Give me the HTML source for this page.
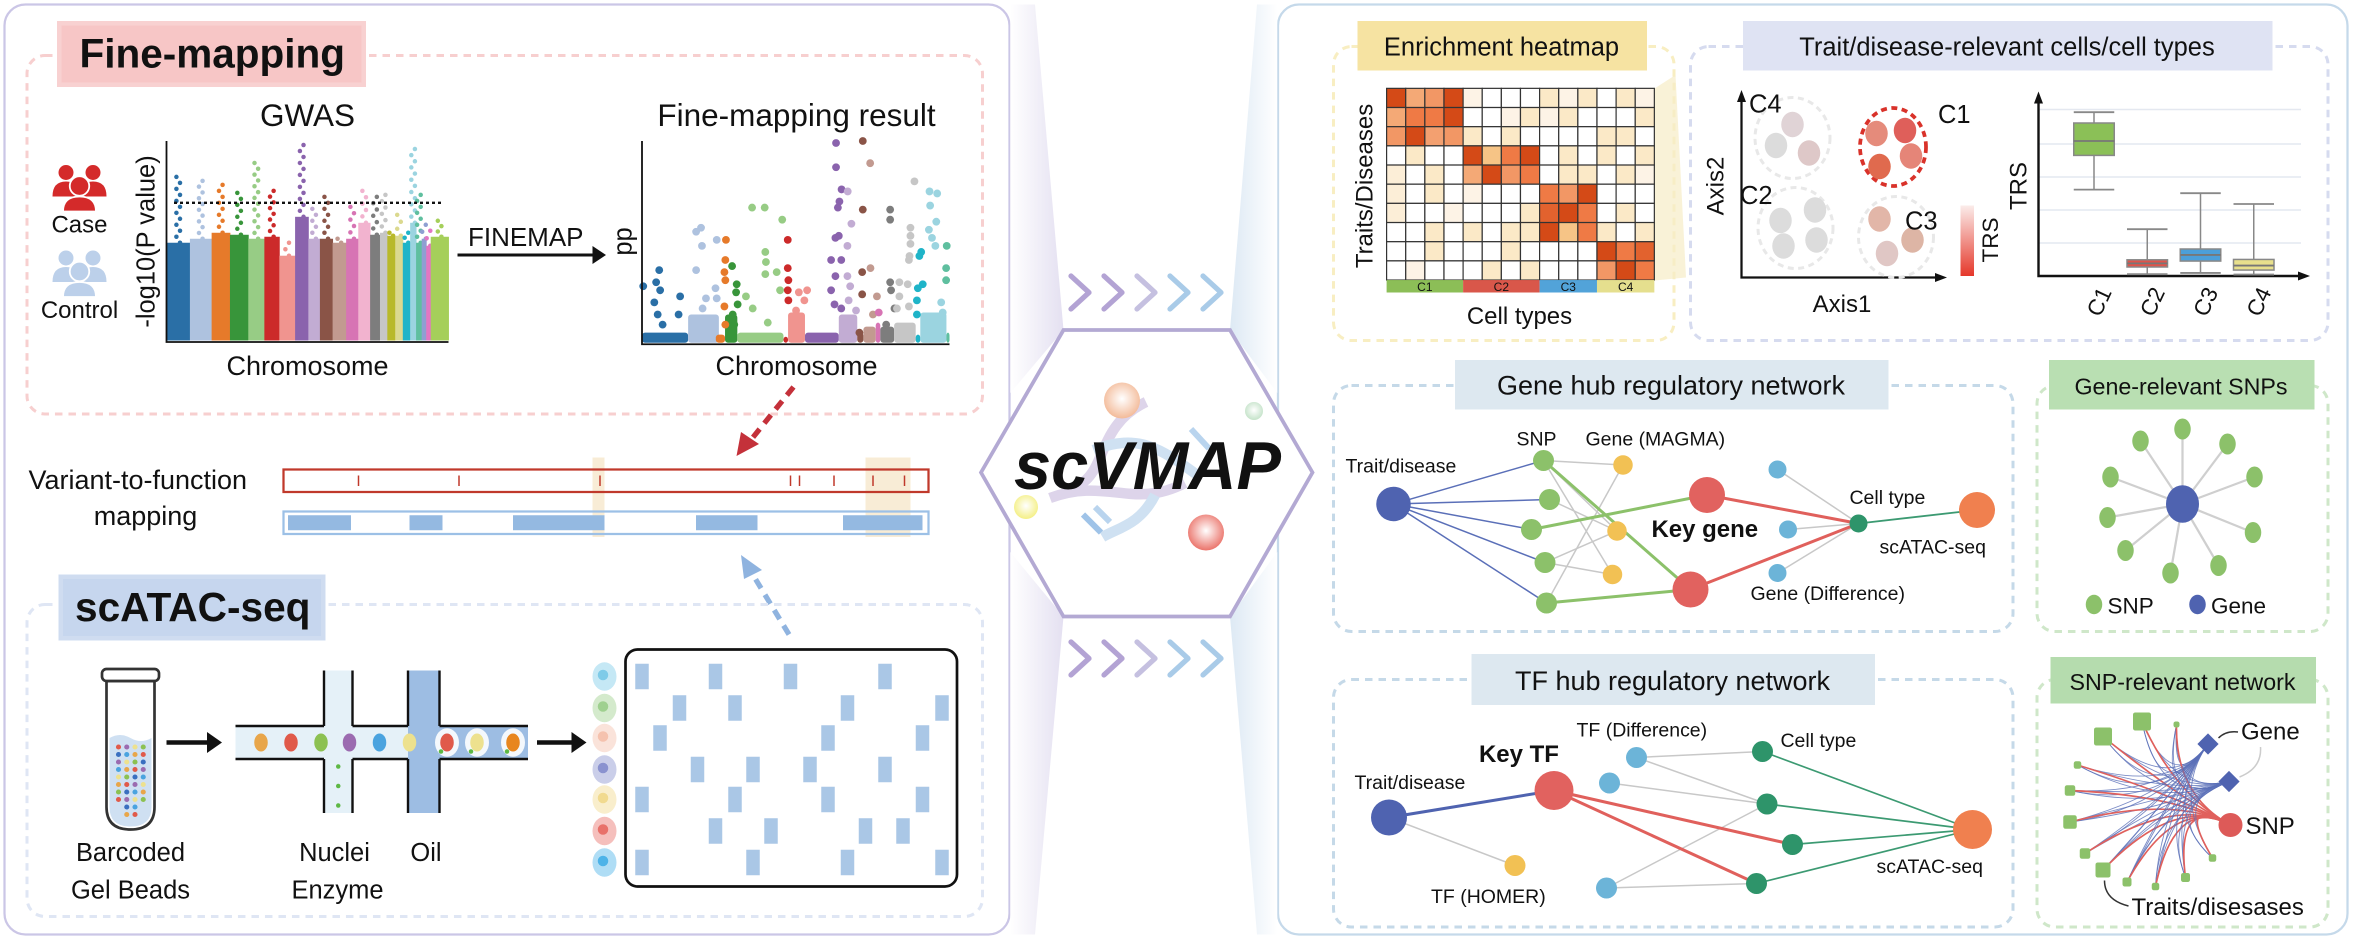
<!DOCTYPE html>
<html><head><meta charset="utf-8"><title>scVMAP overview</title>
<style>
html,body{margin:0;padding:0;background:#fff;}
svg{display:block;font-family:"Liberation Sans",Arial,sans-serif;}
text{fill:#111;}
</style></head>
<body>
<svg id="fig" width="2354" height="943" viewBox="0 0 1569.33 628.67" preserveAspectRatio="none" xmlns="http://www.w3.org/2000/svg">
<defs>
<linearGradient id="wedgeL" x1="0" x2="1" y1="0" y2="0"><stop offset="0" stop-color="#ffffff"/><stop offset="1" stop-color="#e4e0f1"/></linearGradient>
<linearGradient id="wedgeR" x1="1" x2="0" y1="0" y2="0"><stop offset="0" stop-color="#ffffff"/><stop offset="1" stop-color="#dde9f4"/></linearGradient>
<linearGradient id="chevG" x1="0" x2="1"><stop offset="0" stop-color="#b3a3d4"/><stop offset="1" stop-color="#a6cbe8"/></linearGradient>
<linearGradient id="trsG" x1="0" x2="0" y1="0" y2="1"><stop offset="0" stop-color="#fbecea"/><stop offset="1" stop-color="#e5372a"/></linearGradient>
<radialGradient id="ballO" cx="0.5" cy="0.45" r="0.6"><stop offset="0" stop-color="#fff"/><stop offset="1" stop-color="#f2b48f"/></radialGradient>
<radialGradient id="ballR" cx="0.5" cy="0.45" r="0.6"><stop offset="0" stop-color="#fff"/><stop offset="1" stop-color="#e9675d"/></radialGradient>
<radialGradient id="ballY" cx="0.5" cy="0.45" r="0.6"><stop offset="0" stop-color="#fff"/><stop offset="1" stop-color="#f3ee7a"/></radialGradient>
<radialGradient id="ballG" cx="0.5" cy="0.45" r="0.6"><stop offset="0" stop-color="#fff"/><stop offset="1" stop-color="#bfe0c4"/></radialGradient>
</defs>

<!-- panels -->
<rect x="3" y="3" width="670" height="620" rx="14" fill="#fff" stroke="#cbc6e6" stroke-width="1.5"/>
<rect x="852" y="3" width="713" height="620" rx="14" fill="#fff" stroke="#c5d9ea" stroke-width="1.5"/>

<!-- wedges & hexagon -->
<polygon points="673.5,3 690,3 709,220 673.5,262" fill="url(#wedgeL)"/>
<polygon points="673.5,368 709,411 690,623 673.5,623" fill="url(#wedgeL)"/>
<polygon points="851.5,3 838,3 820,220 851.5,262" fill="url(#wedgeR)"/>
<polygon points="851.5,368 820,411 838,623 851.5,623" fill="url(#wedgeR)"/>
<polygon points="709,220 820,220 875,315 820,411 709,411 654,315" fill="#fff" stroke="#b3a9d3" stroke-width="2.5"/>
<g fill="none" stroke-linecap="butt">
  <path d="M764,268 C728,285 740,320 712,326" stroke="#ddd4ea" stroke-width="7"/>
  <path d="M700,332 C738,318 755,340 790,322" stroke="#ddd4ea" stroke-width="7"/>
  <path d="M729,300 C760,288 775,300 800,318" stroke="#cfe1f2" stroke-width="7"/>
  <path d="M770,330 C760,350 745,352 735,358" stroke="#cfe1f2" stroke-width="7"/>
  <line x1="722" y1="343" x2="734" y2="355" stroke="#9fc3e8" stroke-width="4"/>
  <line x1="730" y1="338" x2="740" y2="348" stroke="#b9d4ee" stroke-width="4"/>
  <line x1="794" y1="286" x2="806" y2="299" stroke="#b9d4ee" stroke-width="4"/>
</g>
<circle cx="748" cy="267" r="12" fill="url(#ballO)"/>
<circle cx="836" cy="274" r="6" fill="url(#ballG)"/>
<circle cx="684" cy="338" r="8" fill="url(#ballY)"/>
<circle cx="804" cy="355" r="12" fill="url(#ballR)"/>
<text x="676" y="326" font-size="45" font-weight="bold" font-style="italic" textLength="178" lengthAdjust="spacingAndGlyphs">scVMAP</text>
<g id="chevTop"></g>
<g id="chevBot"></g>

<!-- Fine-mapping section -->
<rect x="18" y="37" width="637" height="239" rx="12" fill="none" stroke="#f7cfcf" stroke-width="2" stroke-dasharray="5,4"/>
<rect x="38" y="14" width="206" height="44" fill="#f8d1d1"/>
<rect x="41" y="17" width="200" height="38" fill="#f7c6c6"/>
<text x="53" y="45" font-size="27" font-weight="bold" textLength="177" lengthAdjust="spacingAndGlyphs">Fine-mapping</text>

<g id="caseIcon" fill="#d42a2a"></g>
<g id="ctrlIcon" fill="#bcd0ea"></g>
<text x="53" y="155" font-size="16" text-anchor="middle">Case</text>
<text x="53" y="212" font-size="16" text-anchor="middle">Control</text>

<text x="205" y="84" font-size="21" text-anchor="middle">GWAS</text>
<text transform="translate(103,161) rotate(-90)" font-size="17" text-anchor="middle">-log10(P value)</text>
<g id="gwas"></g>
<text x="205" y="250" font-size="18" text-anchor="middle">Chromosome</text>

<text x="312" y="164" font-size="17" textLength="77" lengthAdjust="spacingAndGlyphs">FINEMAP</text>
<line x1="305" y1="170" x2="398" y2="170" stroke="#111" stroke-width="2"/>
<polygon points="404,170 395,164 395,176" fill="#111"/>

<text x="531" y="84" font-size="21" text-anchor="middle">Fine-mapping result</text>
<text transform="translate(421,161) rotate(-90)" font-size="17" text-anchor="middle">pp</text>
<g id="fm"></g>
<text x="531" y="250" font-size="18" text-anchor="middle">Chromosome</text>

<line x1="529" y1="258" x2="500" y2="294" stroke="#c4313a" stroke-width="3.5" stroke-dasharray="7,5"/>
<polygon points="491,304 494,288 506,296" fill="#c4313a"/>

<!-- Variant-to-function -->
<text x="19" y="326" font-size="18">Variant-to-function</text>
<text x="97" y="350" font-size="18" text-anchor="middle">mapping</text>
<rect x="395" y="305" width="8" height="53" fill="#f8ecd6"/>
<rect x="577" y="305" width="30" height="53" fill="#f8ecd6"/>
<rect x="189" y="313" width="430" height="15" fill="none" stroke="#c0392b" stroke-width="1.5"/>
<g id="variants"></g>
<rect x="189" y="341" width="430" height="15" fill="none" stroke="#9cc0e6" stroke-width="1.5"/>
<g id="peaks"></g>
<line x1="526" y1="423" x2="500" y2="380" stroke="#8fb3df" stroke-width="3.5" stroke-dasharray="7,5"/>
<polygon points="494,370 508,380 496,386" fill="#8fb3df"/>

<!-- scATAC-seq -->
<rect x="18" y="403" width="637" height="208" rx="12" fill="none" stroke="#dfe6f4" stroke-width="2" stroke-dasharray="5,4"/>
<rect x="39" y="383" width="178" height="44" fill="#cfdcf0"/>
<rect x="42" y="386" width="172" height="38" fill="#c6d6ee"/>
<text x="50" y="414" font-size="27" font-weight="bold" textLength="157" lengthAdjust="spacingAndGlyphs">scATAC-seq</text>
<g id="tube"></g>
<text x="87" y="574" font-size="17" text-anchor="middle">Barcoded</text>
<text x="87" y="599" font-size="17" text-anchor="middle">Gel Beads</text>
<line x1="111" y1="495" x2="141" y2="495" stroke="#111" stroke-width="3"/>
<polygon points="148,495 138,488 138,502" fill="#111"/>
<g id="chip"></g>
<text x="223" y="574" font-size="17" text-anchor="middle">Nuclei</text>
<text x="284" y="574" font-size="17" text-anchor="middle">Oil</text>
<text x="225" y="599" font-size="17" text-anchor="middle">Enzyme</text>
<line x1="358" y1="495" x2="384" y2="495" stroke="#111" stroke-width="3"/>
<polygon points="391,495 381,488 381,502" fill="#111"/>
<g id="cells"></g>
<rect x="417" y="433" width="221" height="158" rx="8" fill="#fff" stroke="#111" stroke-width="1.8"/>
<g id="matrix"></g>

<!-- Enrichment heatmap -->
<rect x="889" y="31" width="227" height="196" rx="12" fill="none" stroke="#f8eec2" stroke-width="2" stroke-dasharray="5,4"/>
<polygon points="1103,59 1117,50 1124,185 1103,187" fill="#f6ecc6" opacity="0.7"/>
<rect x="905" y="14" width="193" height="33" fill="#f6e3a2"/>
<text x="1001" y="37" font-size="17" text-anchor="middle">Enrichment heatmap</text>
<g id="heat"></g>
<text transform="translate(915,124) rotate(-90)" font-size="16" text-anchor="middle">Traits/Diseases</text>
<text x="1013" y="216" font-size="16" text-anchor="middle">Cell types</text>

<!-- Trait relevant cells -->
<rect x="1127" y="31" width="425" height="196" rx="12" fill="none" stroke="#d6dbef" stroke-width="2" stroke-dasharray="5,4"/>
<rect x="1162" y="14" width="353" height="33" fill="#dfe3f3"/>
<text x="1338" y="37" font-size="17" text-anchor="middle">Trait/disease-relevant cells/cell types</text>
<g id="scatter"></g>
<text transform="translate(1149,124) rotate(-90)" font-size="16" text-anchor="middle">Axis2</text>
<text x="1228" y="208" font-size="16" text-anchor="middle">Axis1</text>
<rect x="1307" y="137" width="9" height="47" fill="url(#trsG)"/>
<text transform="translate(1332,160) rotate(-90)" font-size="15" text-anchor="middle">TRS</text>
<g id="box"></g>
<text transform="translate(1351,124) rotate(-90)" font-size="16" text-anchor="middle">TRS</text>

<!-- Gene hub -->
<rect x="889" y="257" width="453" height="164" rx="12" fill="none" stroke="#c5d9e8" stroke-width="2" stroke-dasharray="5,4"/>
<rect x="970" y="240" width="289" height="33" fill="#dde8f0"/>
<text x="1114" y="263" font-size="18" text-anchor="middle">Gene hub regulatory network</text>
<g id="genehub"></g>

<rect x="1358" y="257" width="194" height="164" rx="12" fill="none" stroke="#cfe7c9" stroke-width="2" stroke-dasharray="5,4"/>
<rect x="1366" y="240" width="177" height="33" fill="#b9dfb2"/>
<text x="1454" y="263" font-size="15.5" text-anchor="middle">Gene-relevant SNPs</text>
<g id="star"></g>

<!-- TF hub -->
<rect x="889" y="453" width="453" height="165" rx="12" fill="none" stroke="#c5d9e8" stroke-width="2" stroke-dasharray="5,4"/>
<rect x="981" y="436" width="269" height="34" fill="#dde8f0"/>
<text x="1115" y="460" font-size="18" text-anchor="middle">TF hub regulatory network</text>
<g id="tfhub"></g>

<rect x="1358" y="453" width="194" height="165" rx="12" fill="none" stroke="#cfe7c9" stroke-width="2" stroke-dasharray="5,4"/>
<rect x="1367" y="438" width="177" height="31" fill="#b5dcae"/>
<text x="1455" y="460" font-size="15.5" text-anchor="middle">SNP-relevant network</text>
<g id="snpnet"></g>
</svg>

<script>
// ---------- DATA ----------
const gwasChrLen = [8.3,7.7,6.5,6.5,5.7,5.3,5.6,4.7,4.1,4.5,4.8,4.3,4.2,3.5,2.6,2.8,2.7,2.6,2.1,2.0,1.6,1.6,6.3];
const gwasBody = [4.9,5.1,5.4,5.3,5.1,5.2,4.25,6.2,5.1,5.1,4.9,5.1,5.9,5.3,5.4,5.25,5.25,4.9,5.9,4.9,5.1,4.75,5.2];
const gwasPeak = [8.2,8.0,7.8,7.4,8.9,7.5,4.9,9.8,6.6,7.2,5.1,6.7,7.5,7.2,7.3,5.4,6.3,5.4,9.6,7.3,5.8,5.5,6.0];
const gwasThreshold = 6.9;
const chrColors = ['#2a6fa6','#aec2df','#e67a2a','#38953a','#97cc85','#cc2a2a','#f0948f','#8a63ad','#c2acd3','#8a5447','#c29a90','#d774b4','#f2b3cf','#7d7d7d','#c6c6c6','#b8b92a','#dbd98f','#1fb4c8','#9bd4e0','#5fbf9f','#8f9fd2','#e377c2','#a5cf5a'];

const fmChr = [0,0,0,0,0,0,0,0,0, 1,1,1,1,1,1,1,1,1, 2,2,2,2,2,2, 3,3,3,3,3,3, 4,4,4,4,4,4,4,4,4,4,4, 5,5,5,5,5, 6,6,6,6, 7,7,7,7,7,7,7,7,7,7,7,7,7, 8,8,8,8,8,8,8, 9,9,9,9,9, 10,10,10,10, 11, 13,13,13,13,13,13, 14,14,14,14,14,14,14,14,14,14,14, 17,17,17,17,17,17, 18,18,18,18,18,18,18,18,18, 19,19,19];
const fmPos = [5.6,4.6,5.9,4,5.1,12.4,11.9,0.4,6.7, 19.2,17.6,19.5,24.3,17.6,23.9,20.8,24.3,19.7, 27.3,27.1,26.8,27.1,26.8,27.1, 29.3,30.8,30.6,31.1,29.5,30, 35.8,39.9,45.6,40.1,40.3,40.1,43.8,44.9,33.8,36,40.9, 47.4,47.4,47.6,47.4,47.6, 51,53.7,52.8,50.1, 63.1,63.1,64.9,64.2,63.7,64,62.9,61.5,64.8,62.9,61.5,62.6,64.8, 66.9,68.1,66.8,66.8,67.7,67.2,69.6, 71.8,71.8,71.6,71.6,70.7, 74.2,74.3,76.4,75.1, 77, 80.7,80.7,80.7,81,82.1,79.4, 88.6,87.3,87.3,87.3,87,86.8,83.7,86.4,83.7,86.8,82.9, 90.8,90.2,91.3,89.7,89.4,89.4, 93.5,96,93.7,95.7,93.3,94.3,95.4,97.3,97.8, 99.1,98.9,98.9];
const fmPP = [.36,.3,.26,.2,.14,.23,.14,.28,.09, .57,.55,.48,.51,.36,.27,.22,.22,.17, .51,.41,.35,.31,.18,.09, .38,.29,.25,.19,.14,.09, .67,.67,.61,.45,.4,.34,.35,.26,.23,.17,.1, .51,.37,.31,.26,.21, .25,.26,.21,.16, .99,.87,.76,.7,.67,.53,.52,.41,.41,.33,.26,.19,.17, .75,.59,.48,.33,.28,.21,.16, 1.0,.66,.35,.24,.05, .89,.37,.23,.14, .15, .66,.61,.3,.26,.17,.09, .8,.57,.53,.49,.43,.41,.3,.29,.23,.18,.17, .45,.43,.29,.27,.21,.14, .75,.74,.68,.6,.56,.52,.48,.2,.15, .48,.37,.31];
const fmBaseChr = [0,1,2,3,4,5,6,7,8,9,10,11,13,14,17,18,19];
const fmBaseStart = [0,15,24,27,31,46,47.5,53,64,70,72,76,77.5,82,89,90.5,99];
const fmBaseEnd = [15,25,27,31,46,47.5,53,64,70,72,76,77.5,82,89,90.5,99,100];
const fmBaseH = [.05,.14,.04,.14,.05,.03,.15,.05,.14,.05,.08,.1,.08,.1,.04,.15,.05];

const variantPos = [239,306,400,527,533,556,582,603];
const peakStart = [192,273,342,464,562];
const peakEnd = [234,295,403,505,615];

const heatValues = [
 [1,.55,.65,1,.1,0,0,0,.2,.1,.2,0,.2,.1],
 [.55,.8,.8,1,0,0,.1,.2,.1,.2,0,0,0,.2],
 [.65,1,.6,.65,.2,0,.2,0,0,0,0,.2,.2,0],
 [0,.2,0,0,1,.4,.8,1,0,.2,0,.2,0,.2],
 [.15,0,.2,0,.55,1,.65,.8,0,.2,.2,0,.2,.1],
 [.15,0,.2,0,.1,0,0,0,.8,.65,1,0,0,0],
 [.15,0,0,.1,0,0,0,.2,.9,1,.8,0,.2,0],
 [0,0,.2,0,.2,0,.2,.2,1,.4,.8,.2,0,.2],
 [0,0,.2,0,0,0,.2,0,0,0,0,1,.8,.9],
 [0,.1,0,0,0,.2,0,.2,0,0,0,.65,1,.8]];
const heatGroups = ['C1','C2','C3','C4'];
const heatGroupSize = [4,4,3,3];
const heatGroupColors = ['#8cbe57','#d9574a','#52a3d9','#e5df8e'];

const boxCats = ['C1','C2','C3','C4'];
const boxLo = [4.8,0.1,0.17,0.08];
const boxQ1 = [6.7,0.5,0.83,0.33];
const boxMed = [7.5,0.7,1.17,0.58];
const boxQ3 = [8.5,0.9,1.5,0.92];
const boxHi = [9.1,2.6,4.6,4.0];
const boxColors = ['#8bc057','#e0534a','#4c9fd9','#e8e08c'];

// ---------- helpers ----------
const NS='http://www.w3.org/2000/svg';
function mk(tag, attrs, parent){const e=document.createElementNS(NS,tag);for(const k in attrs)e.setAttribute(k,attrs[k]);parent.appendChild(e);return e;}
const $=id=>document.getElementById(id);
let el;

// chevrons
[['chevTop',195],['chevBot',439]].forEach(([id,cy])=>{
  for(let i=0;i<5;i++){
    const x=714+i*22;
    const cols=['#b3a3d4','#b3a3d4','#c5c0e0','#a9cbe8','#a9cbe8'];
    el=mk('polyline',{points:`${x},${cy-11} ${x+12},${cy} ${x},${cy+11}`,fill:'none',stroke:cols[i],'stroke-width':3.5,'stroke-linecap':'round','stroke-linejoin':'round'},$(id));
    
    
  }
});

// people icons
function people(g,cx,cy){
  [[-9,-5,5],[9,-5,5]].forEach(([dx,dy,r])=>{
    el=mk('circle',{cx:cx+dx,cy:cy+dy-6,r:r},g);  
    el=mk('path',{d:`M${cx+dx-9},${cy+dy+10} Q${cx+dx-9},${cy+dy} ${cx+dx},${cy+dy} Q${cx+dx+9},${cy+dy} ${cx+dx+9},${cy+dy+10} Z`},g);  
  });
  el=mk('circle',{cx:cx,cy:cy-2,r:6.5,stroke:'#fff','stroke-width':1.2},g);  
  el=mk('path',{d:`M${cx-11},${cy+15} Q${cx-11},${cy+5} ${cx},${cy+5} Q${cx+11},${cy+5} ${cx+11},${cy+15} Z`,stroke:'#fff','stroke-width':1.2},g);  
}
people($('caseIcon'),53,126);
people($('ctrlIcon'),53,183);

// ---------- GWAS Manhattan ----------
(function(){
  const g=$('gwas'); const x0=111,x1=299,yb=227,yt=94;
  const total=gwasChrLen.reduce((a,b)=>a+b,0);
  const xs=v=>x0+(v/total)*(x1-x0); const ys=v=>yb-(v/10)*(yb-yt);
  let acc=0;
  gwasChrLen.forEach((len,i)=>{
    const a=xs(acc), b=xs(acc+len); acc+=len;
    el=mk('rect',{x:a,y:ys(gwasBody[i]),width:b-a+0.3,height:yb-ys(gwasBody[i]),fill:chrColors[i]},g);
     
    const mid=(a+b)/2; const steps=Math.max(1,Math.round((ys(gwasBody[i])-ys(gwasPeak[i]))/4));
    for(let s=0;s<=steps;s++){
      const yy=ys(gwasBody[i])-(ys(gwasBody[i])-ys(gwasPeak[i]))*s/steps;
      el=mk('circle',{cx:mid+((s%2)?-1.2:1.2),cy:yy,r:1.5,fill:chrColors[i]},g);
       
    }
  });
  el=mk('line',{x1:116,x2:296,y1:ys(gwasThreshold),y2:ys(gwasThreshold),stroke:'#111','stroke-width':1.6,'stroke-dasharray':'2,2'},g);
   
  el=mk('polyline',{points:`${x0},${yt} ${x0},${yb+1} ${x1},${yb+1}`,fill:'none',stroke:'#111','stroke-width':1.2},g);
   
})();

// ---------- Fine-mapping ----------
(function(){
  const g=$('fm'); const x0=428,x1=633,yb=228.5,yt=94;
  const xs=v=>x0+v/100*(x1-x0); const ys=v=>yb-v*(yb-yt);
  fmBaseChr.forEach((c,i)=>{
    el=mk('rect',{x:xs(fmBaseStart[i]),y:ys(fmBaseH[i]),width:xs(fmBaseEnd[i])-xs(fmBaseStart[i]),height:yb-ys(fmBaseH[i]),rx:2,fill:chrColors[c]},g);
     
  });
  fmPos.forEach((p,i)=>{
    el=mk('circle',{cx:xs(p),cy:ys(fmPP[i]),r:2.6,fill:chrColors[fmChr[i]]},g);
     
  });
  el=mk('polyline',{points:`${x0},${yt} ${x0},${yb+1} ${x1},${yb+1}`,fill:'none',stroke:'#111','stroke-width':1.2},g);
   
})();

// variants & peaks
variantPos.forEach(x=>{
  el=mk('line',{x1:x,x2:x,y1:317,y2:324,stroke:'#c0392b','stroke-width':1},$('variants'));
   
});
peakStart.forEach((s,i)=>{
  el=mk('rect',{x:s,y:343.5,width:peakEnd[i]-s,height:10,fill:'#94b9e1'},$('peaks'));
   
});

// tube
(function(){
  const g=$('tube');
  el=mk('path',{d:'M71,454 L71,538 Q71,553 87,553 Q103,553 103,538 L103,454 Z',fill:'#fff',stroke:'#333','stroke-width':1.8},g);  
  el=mk('path',{d:'M73,492 Q80,488 87,492 Q94,496 101,492 L101,538 Q101,551 87,551 Q73,551 73,538 Z',fill:'#cfe0f2'},g);  
  el=mk('rect',{x:68,y:446,width:38,height:8,rx:3,fill:'#fff',stroke:'#333','stroke-width':1.8},g);  
  const dc=['#e05a4a','#4aa3df','#8cc152','#9b6bb0','#e8a64a','#3a6fc0','#ede18e'];
  let k=0;
  for(let r=0;r<10;r++)for(let c=0;c<4;c++){
    if(r>7&&(c==0||c==3))continue;
    el=mk('circle',{cx:79+c*5.5,cy:498+r*5,r:1.7,fill:dc[(k++*3)%7]},g);  
  }
})();

// chip
(function(){
  const g=$('chip');
  el=mk('rect',{x:157,y:484,width:195,height:22,fill:'#e5f1f8'},g);  
  el=mk('rect',{x:216,y:447,width:19,height:95,fill:'#e5f1f8'},g);  
  el=mk('rect',{x:272,y:447,width:21,height:95,fill:'#9dbde3'},g);  
  el=mk('rect',{x:293,y:484,width:59,height:22,fill:'#9dbde3'},g);  
  const segs=[[157,484,216,484],[235,484,272,484],[293,484,352,484],[157,506,216,506],[235,506,272,506],[293,506,352,506],[216,447,216,484],[235,447,235,484],[216,506,216,542],[235,506,235,542],[272,447,272,484],[293,447,293,484],[272,506,272,542],[293,506,293,542]];
  segs.forEach(s=>{el=mk('line',{x1:s[0],y1:s[1],x2:s[2],y2:s[3],stroke:'#111','stroke-width':1.6},g);  });
  const bx=[174,194,214,233,253,273], bc=['#e8a64a','#e05a4a','#8cc152','#9b6bb0','#4aa3df','#ede18e'];
  bx.forEach((x,i)=>{el=mk('ellipse',{cx:x,cy:495,rx:4.5,ry:6,fill:bc[i]},g);  });
  [[298,'#e05a4a'],[318,'#ede18e'],[342,'#e8861f']].forEach(([x,c])=>{
    el=mk('ellipse',{cx:x,cy:495,rx:8,ry:9.5,fill:'#f4f8fc'},g);  
    el=mk('ellipse',{cx:x,cy:495,rx:4.5,ry:6,fill:c},g);  
    el=mk('circle',{cx:x-4,cy:501,r:1.5,fill:'#5db845'},g);  
  });
  [511,524,537].forEach(y=>{el=mk('circle',{cx:225.5,cy:y,r:1.5,fill:'#5db845'},g);  });
})();

// cells & matrix
(function(){
  const ys=[451,472,492,513,533,554,575], cc=['#7fcbe8','#9fd08f','#f5c2ae','#8a92cf','#f1da8f','#e8716a','#4db3e8'];
  ys.forEach((y,i)=>{
    el=mk('ellipse',{cx:403,cy:y,rx:8,ry:9.5,fill:cc[i],opacity:0.45},$('cells'));  
    el=mk('circle',{cx:402,cy:y-1,r:3.5,fill:cc[i]},$('cells'));  
  });
  const rows=[[428,477,527,590],[453,490,565,628],[440,552,615],[465,502,540,590],[428,490,552,615],[477,514,577,602],[428,502,565,628]];
  rows.forEach((r,i)=>r.forEach(x=>{
    el=mk('rect',{x:x-4.5,y:ys[i]-8.5,width:9,height:17,fill:'#aac7e6'},$('matrix'));  
  }));
})();

// ---------- heatmap ----------
(function(){
  const g=$('heat'); const x0=924.4,x1=1102.9,y0=58.9,y1=186.7;
  const nc=14,nr=10, cw=(x1-x0)/nc, rh=(y1-y0)/nr;
  const stops=[[0,[255,255,255]],[.1,[253,243,230]],[.2,[251,233,199]],[.4,[246,196,134]],[.6,[243,160,112]],[.8,[239,122,69]],[1,[212,74,23]]];
  function col(t){for(let i=1;i<stops.length;i++){if(t<=stops[i][0]){const a=stops[i-1],b=stops[i],f=(t-a[0])/(b[0]-a[0]);return 'rgb('+a[1].map((v,k)=>Math.round(v+(b[1][k]-v)*f)).join(',')+')';}}return 'rgb(212,74,23)';}
  heatValues.forEach((row,r)=>row.forEach((v,c)=>{
    el=mk('rect',{x:x0+c*cw,y:y0+r*rh,width:cw,height:rh,fill:col(v),stroke:'#333','stroke-width':0.8},g);
     
  }));
  let c0=0;
  heatGroups.forEach((name,i)=>{
    const a=x0+c0*cw, w=heatGroupSize[i]*cw; c0+=heatGroupSize[i];
    el=mk('rect',{x:a,y:y1,width:w,height:8.3,fill:heatGroupColors[i]},g);  
    el=mk('text',{x:a+w/2,y:y1+7.3,'font-size':8,'text-anchor':'middle'},g); el.textContent=name;  
  });
})();

// ---------- scatter ----------
(function(){
  const g=$('scatter');
  el=mk('polyline',{points:'1161,66 1161,185 1292,185',fill:'none',stroke:'#111','stroke-width':1.5},g);  
  el=mk('polygon',{points:'1161,60 1158,68 1164,68',fill:'#111'},g);  
  el=mk('polygon',{points:'1298,185 1290,182 1290,188',fill:'#111'},g);  
  const clusters=[[1195,92,'#e8e8e8'],[1197,152,'#e8e8e8'],[1264,158,'#e8e8e8'],[1262,98,'#d9322a']];
  clusters.forEach(([x,y,c],i)=>{
    el=mk('ellipse',{cx:x,cy:y,rx:i==3?22:25,ry:i==3?26:27,fill:'none',stroke:c,'stroke-width':i==3?2.5:2,'stroke-dasharray':i==3?'4,3':'4,3'},g);
     
  });
  const pts=[[1195,83,'#e0d3d6'],[1184,97,'#dcdcdc'],[1206,102,'#dec8c8'],[1251,89,'#e58b7b'],[1270,87,'#df5f5a'],[1253,111,'#e06a4e'],[1274,104,'#e58578'],[1187,147,'#dcdcdc'],[1210,140,'#dcdcdc'],[1189,164,'#dcdcdc'],[1211,160,'#dcdcdc'],[1253,146,'#e2b6a8'],[1275,160,'#ddb5a5'],[1258,169,'#e0c7c5']];
  pts.forEach(p=>{el=mk('ellipse',{cx:p[0],cy:p[1],rx:7.5,ry:8.5,fill:p[2]},g);  });
  [['C4',1166,75,'#c8c8c8'],['C1',1292,82,'#111'],['C2',1160,136,'#c8c8c8'],['C3',1270,153,'#c8c8c8']].forEach(([t,x,y,c])=>{
    el=mk('text',{x:x,y:y,'font-size':17,fill:c},g); el.textContent=t;  
  });
})();

// ---------- boxplot ----------
(function(){
  const g=$('box'); const yb=184, yt=62; const ys=v=>yb-v*12;
  [73,96,118,140,162].forEach(y=>{el=mk('line',{x1:1359,x2:1534,y1:y,y2:y,stroke:'#e4e8f0','stroke-width':1},g);  });
  el=mk('polyline',{points:`1359,${yt+5} 1359,${yb} 1533,${yb}`,fill:'none',stroke:'#111','stroke-width':1.6},g);  
  el=mk('polygon',{points:`1359,${yt-1} 1356,${yt+7} 1362,${yt+7}`,fill:'#111'},g);  
  el=mk('polygon',{points:`1540,${yb} 1532,${yb-3} 1532,${yb+3}`,fill:'#111'},g);  
  boxCats.forEach((c,i)=>{
    const cx=1396+i*35.5, w=27;
    el=mk('line',{x1:cx,x2:cx,y1:ys(boxHi[i]),y2:ys(boxLo[i]),stroke:'#888','stroke-width':1},g);  
    [boxHi[i],boxLo[i]].forEach(v=>{el=mk('line',{x1:cx-w/2,x2:cx+w/2,y1:ys(v),y2:ys(v),stroke:'#888','stroke-width':1.2},g);  });
    el=mk('rect',{x:cx-w/2,y:ys(boxQ3[i]),width:w,height:ys(boxQ1[i])-ys(boxQ3[i]),fill:boxColors[i],stroke:'#888','stroke-width':1},g);  
    el=mk('line',{x1:cx-w/2,x2:cx+w/2,y1:ys(boxMed[i]),y2:ys(boxMed[i]),stroke:'#777','stroke-width':1.2},g);  
    el=mk('text',{transform:`translate(${cx+4},${yb+28}) rotate(-65)`,'font-size':15},g); el.textContent=c;  
  });
})();

// ---------- network helpers ----------
function edge(g,a,b,c,w){el=mk('line',{x1:a[0],y1:a[1],x2:b[0],y2:b[1],stroke:c,'stroke-width':w},g);  }
function node(g,p,r,c,name){el=mk('circle',{cx:p[0],cy:p[1],r:r,fill:c},g);  }
function label(g,t,x,y,s,b,anchor){el=mk('text',{x:x,y:y,'font-size':s,'font-weight':b?'bold':'normal','text-anchor':anchor||'start'},g); el.textContent=t;  }

// gene hub
(function(){
  const g=$('genehub');
  const T=[929,336], S=[[1029,307],[1033,333],[1021,353],[1030,375],[1031,402]], Y=[[1082,310],[1078,354],[1075,383]], R=[[1138,330],[1127,393]], B=[[1185,313],[1192,353],[1185,382]], C=[1239,349], O=[1318,340];
  S.forEach(s=>edge(g,T,s,'#5a6fb8',1));
  edge(g,S[0],Y[0],'#c8c8c8',1); edge(g,S[0],Y[1],'#c8c8c8',1); edge(g,S[0],Y[2],'#c8c8c8',1);
  edge(g,S[1],Y[1],'#c8c8c8',1); edge(g,S[3],Y[1],'#c8c8c8',1); edge(g,S[3],Y[2],'#c8c8c8',1); edge(g,S[4],Y[0],'#c8c8c8',1);
  B.forEach(b=>edge(g,b,C,'#c8c8c8',1));
  edge(g,S[0],R[1],'#8cc16a',2); edge(g,S[2],R[0],'#8cc16a',2); edge(g,S[4],R[1],'#8cc16a',2);
  R.forEach(r=>edge(g,r,C,'#e0605c',2));
  edge(g,C,O,'#3c9a72',1.2);
  node(g,T,11.5,'#4f63b0','trait-node');
  S.forEach(s=>node(g,s,7,'#8cc16a','snp-node'));
  Y.forEach(s=>node(g,s,6.5,'#f2c154','gene-magma-node'));
  R.forEach(s=>node(g,s,12,'#e1625f','key-gene-node'));
  B.forEach(s=>node(g,s,6,'#6cb4d8','gene-difference-node'));
  node(g,C,6,'#2e946a','cell-type-node'); node(g,O,12,'#f0804f','scatac-node');
  label(g,'SNP',1011,297,13); label(g,'Gene (MAGMA)',1057,297,13); label(g,'Trait/disease',897,315,13);
  label(g,'Key gene',1101,358,16,true); label(g,'Cell type',1233,336,13); label(g,'scATAC-seq',1253,369,13); label(g,'Gene (Difference)',1167,400,13);
})();

// gene-relevant SNPs star
(function(){
  const g=$('star'); const Cn=[1455,336];
  const L=[[1455,286],[1427,294],[1485,296],[1407,318],[1503,318],[1405,345],[1502,355],[1417,367],[1479,377],[1447,382]];
  L.forEach(p=>edge(g,Cn,p,'#cfcfcf',1.5));
  L.forEach(p=>{el=mk('ellipse',{cx:p[0],cy:p[1],rx:5.5,ry:7,fill:'#8cc16a'},g);  });
  el=mk('ellipse',{cx:Cn[0],cy:Cn[1],rx:11,ry:12.5,fill:'#4f63b0'},g);  
  el=mk('ellipse',{cx:1396,cy:403,rx:5.5,ry:6.5,fill:'#8cc16a'},g);  
  label(g,'SNP',1405,409,15);
  el=mk('ellipse',{cx:1465,cy:403,rx:5.5,ry:6.5,fill:'#4f63b0'},g);  
  label(g,'Gene',1474,409,15);
})();

// TF hub
(function(){
  const g=$('tfhub');
  const T=[926,545], K=[1036,527], H=[1010,577], B=[[1091,505],[1073,522],[1071,592]], G=[[1175,501],[1178,536],[1195,563],[1171,589]], O=[1315,553];
  edge(g,T,K,'#4f63b0',2); edge(g,T,H,'#c8c8c8',1);
  edge(g,B[0],G[0],'#c8c8c8',1); edge(g,B[0],G[1],'#c8c8c8',1); edge(g,B[1],G[1],'#c8c8c8',1); edge(g,B[2],G[1],'#c8c8c8',1); edge(g,B[2],G[3],'#c8c8c8',1);
  edge(g,K,G[2],'#e0605c',2); edge(g,K,G[3],'#e0605c',2);
  G.forEach(p=>edge(g,p,O,'#3c9a72',1.1));
  node(g,T,12,'#4f63b0','trait-node'); node(g,K,13,'#e1625f','key-tf-node'); node(g,H,7,'#f2c154','tf-homer-node');
  B.forEach(p=>node(g,p,7,'#6cb4d8','tf-difference-node'));
  G.forEach(p=>node(g,p,7,'#2e946a','cell-type-node'));
  node(g,O,13,'#f0804f','scatac-node');
  label(g,'TF (Difference)',1051,491,13); label(g,'Cell type',1187,498,13); label(g,'Key TF',986,508,16,true);
  label(g,'Trait/disease',903,526,13); label(g,'TF (HOMER)',954,602,13); label(g,'scATAC-seq',1251,582,13);
})();

// SNP-relevant network
(function(){
  const g=$('snpnet');
  const SQ=[[1402,491,12],[1428,481,12],[1451,483,4],[1385,510,5],[1380,527,7],[1380,548,9],[1390,569,7],[1402,580,10],[1418,588,6],[1437,591,5],[1457,585,6],[1475,572,5]];
  const D=[[1472,496],[1486,521]], SN=[1487,550];
  SQ.forEach(s=>{
    D.forEach(d=>{for(let k=0;k<2;k++){el=mk('path',{d:`M${s[0]},${s[1]} Q${1440+k*8},${540-k*10} ${d[0]},${d[1]}`,fill:'none',stroke:'#5a6fb8','stroke-width':0.6,opacity:0.8},g);  }});
    el=mk('path',{d:`M${s[0]},${s[1]} Q1450,530 ${SN[0]},${SN[1]}`,fill:'none',stroke:'#e0605c','stroke-width':1.1},g);  
  });
  SQ.forEach(s=>{el=mk('rect',{x:s[0]-s[2]/2,y:s[1]-s[2]/2,width:s[2],height:s[2],rx:1.5,fill:'#8cc16a'},g);  });
  D.forEach(d=>{el=mk('rect',{x:d[0]-5,y:d[1]-5,width:10,height:10,fill:'#4f63b0',transform:`rotate(45 ${d[0]} ${d[1]})`},g);  });
  el=mk('circle',{cx:SN[0],cy:SN[1],r:8,fill:'#dd5a58'},g);  
  el=mk('path',{d:'M1492,488 Q1484,487 1479,492',fill:'none',stroke:'#333','stroke-width':1},g);  
  el=mk('path',{d:'M1507,498 Q1508,512 1493,518',fill:'none',stroke:'#ccc','stroke-width':1},g);  
  el=mk('path',{d:'M1419,604 Q1403,600 1403,587',fill:'none',stroke:'#333','stroke-width':1},g);  
  label(g,'Gene',1494,493,16); label(g,'SNP',1497,556,16); label(g,'Traits/disesases',1421,610,16);
})();
</script>
</body></html>
